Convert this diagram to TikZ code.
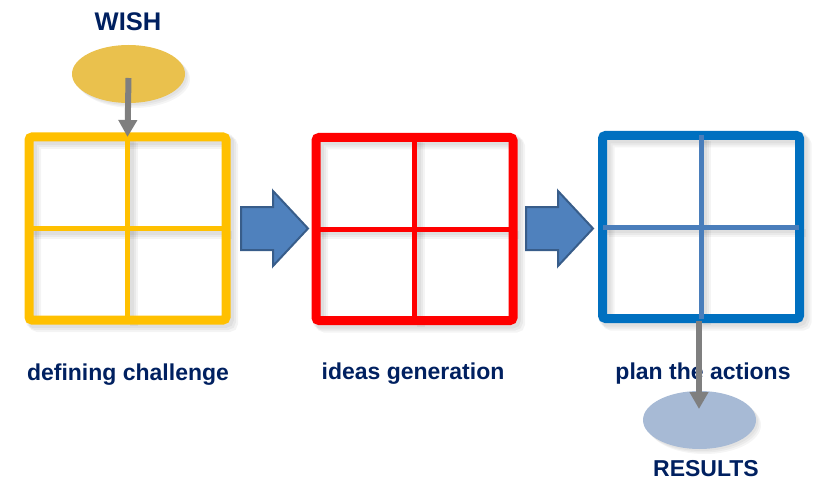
\documentclass[tikz,border=0pt]{standalone}
\usepackage{fontspec}
\setmainfont{Liberation Sans}
\usetikzlibrary{arrows.meta,shapes.geometric}
\definecolor{navy}{HTML}{002060}
\definecolor{yel}{HTML}{FFC000}
\definecolor{redc}{HTML}{FF0000}
\definecolor{bluec}{HTML}{0070C0}
\definecolor{steel}{HTML}{4A7EBB}
\definecolor{arrfill}{HTML}{4F81BD}
\definecolor{arrdraw}{HTML}{385D8A}
\definecolor{wishc}{HTML}{EAC14D}
\definecolor{resc}{HTML}{A7BAD5}
\definecolor{grayc}{HTML}{7F7F7F}
\tikzset{
  frame/.style={draw=#1, line width=9pt, rounded corners=3pt, minimum width=197pt, minimum height=183pt, inner sep=0pt, outer sep=0pt},
  gridline/.style={draw=#1, line width=5pt},
  label/.style={text=navy, font=\bfseries\fontsize{23}{27}\selectfont, inner sep=0pt},
  biglabel/.style={label, font=\bfseries\fontsize{25.5}{30}\selectfont},
  blob/.style={ellipse, fill=#1, minimum width=113pt, minimum height=58pt, inner sep=0pt},
  conn/.style={draw=grayc, line width=6pt, -{Triangle[width=18pt,length=17pt]}},
  blockarrow/.style={fill=arrfill, draw=arrdraw, line width=2pt, line join=miter},
  shadowline/.style={draw=black, opacity=0.045, line width=12pt, rounded corners=3pt}
}
\begin{document}
\begin{tikzpicture}[x=1pt,y=-1pt]
\useasboundingbox (0,0) rectangle (817,500);
% soft shadows of frames
\foreach \cx/\cy in {127.5/228.5, 414.5/229, 701/227}{
  \foreach \d in {2,4,6}{
    \draw[shadowline] (\cx-98.5+\d,\cy-91.5+\d) rectangle (\cx+98.5+\d,\cy+91.5+\d);
    \draw[shadowline, line width=8pt] (\cx+\d,\cy-91.5+\d) -- (\cx+\d,\cy+91.5+\d);
    \draw[shadowline, line width=8pt] (\cx-98.5+\d,\cy+\d) -- (\cx+98.5+\d,\cy+\d);
  }
}
% soft ellipse shadows
\foreach \d in {2,3.5,5}{
  \fill[black, opacity=0.04] (128.5+\d,74+\d) ellipse [x radius=56.5pt, y radius=29pt];
  \fill[black, opacity=0.04] (699.5+\d,420+\d) ellipse [x radius=56.5pt, y radius=29pt];
}
% frames
\node[frame=yel] (yf) at (127.5,228.5) {};
\draw[gridline=yel] (yf.north) -- (yf.south);
\draw[gridline=yel] (yf.west) -- (yf.east);
\node[frame=redc] (rf) at (414.5,229) {};
\draw[gridline=redc] (rf.north) -- (rf.south);
\draw[gridline=redc] (rf.west) -- (rf.east);
\node[frame=bluec] (bf) at (701,227) {};
\draw[gridline=steel] (bf.north) -- (bf.south);
\draw[gridline=steel] ([xshift=0.5pt]bf.west) -- ([xshift=-1pt]bf.east);
% block arrows
\coordinate (a1) at (241,228.5);
\filldraw[blockarrow] (a1) ++(0,-21.5) -- ++(32,0) -- ++(0,-16) -- ++(35,37.5) -- ++(-35,37.5) -- ++(0,-16) -- ++(-32,0) -- cycle;
\coordinate (a2) at (526,228.5);
\filldraw[blockarrow] (a2) ++(0,-21.5) -- ++(32,0) -- ++(0,-16) -- ++(35,37.5) -- ++(-35,37.5) -- ++(0,-16) -- ++(-32,0) -- cycle;
% ellipses
\node[blob=wishc] (wish) at (128.5,74) {};
\node[blob=resc] (res) at (699.5,420) {};
% labels
\node[biglabel] (wisht) at (128,22) {WISH};
\node[label] (l1) at (128,375) {defining challenge};
\node[label] (l2) at (413,374) {ideas generation};
\node[label] (l3) at (703,374) {plan the actions};
\node[label] (rest) at (706,469) {RESULTS};
% connectors
\draw[conn] ([yshift=-4pt]wish.center) -- (yf.north);
\coordinate (rtip) at (699,409);
\draw[conn] ([xshift=-2pt,yshift=-2pt]bf.south) -- (rtip);
\end{tikzpicture}
\end{document}
